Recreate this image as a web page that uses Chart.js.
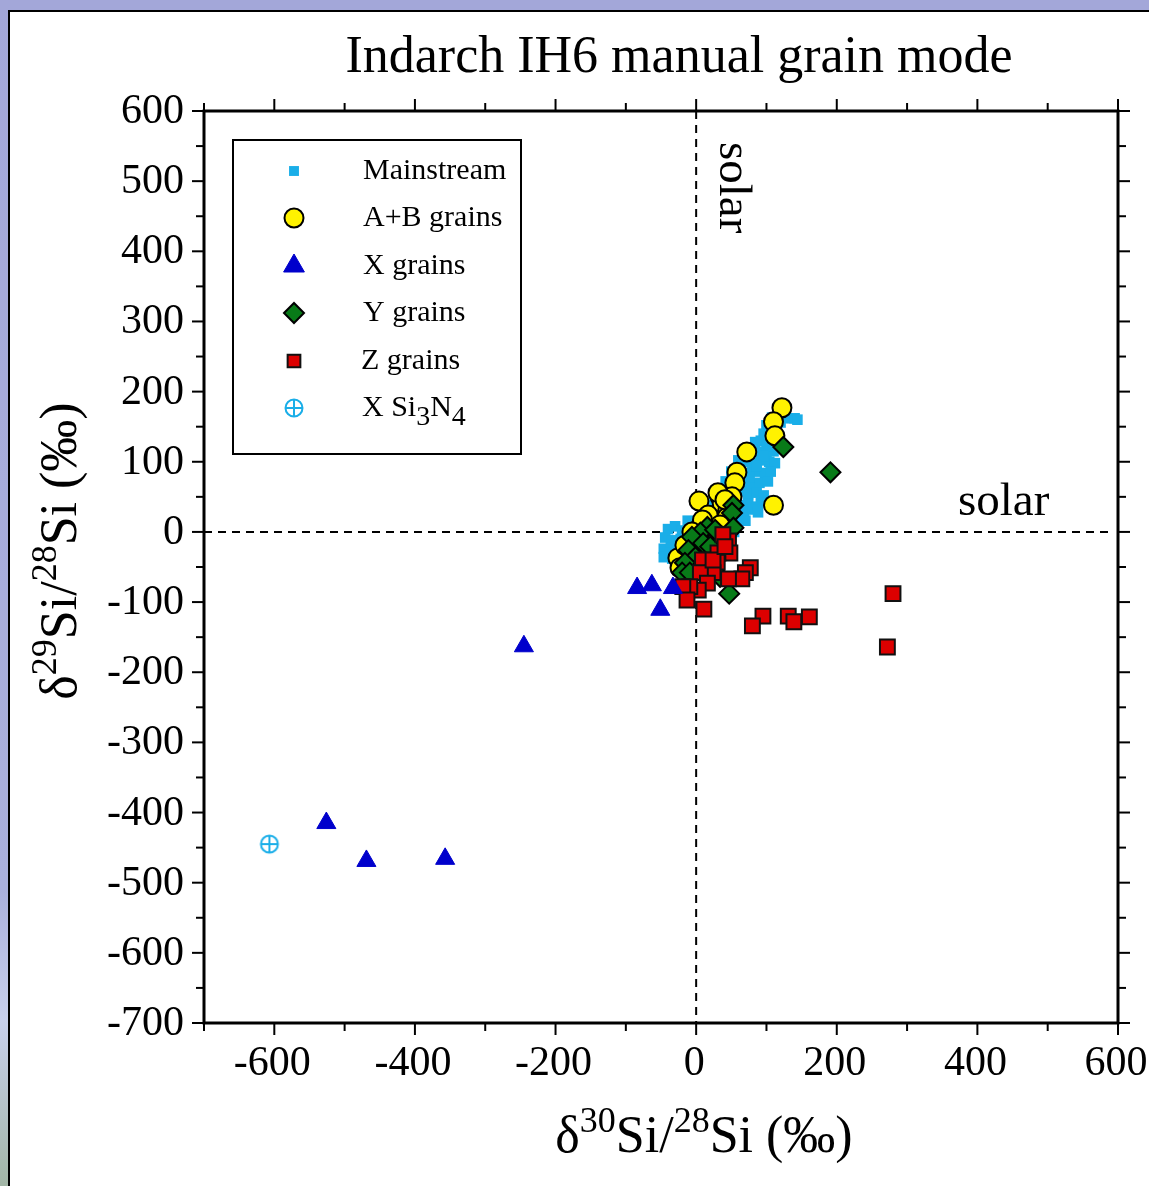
<!DOCTYPE html>
<html>
<head>
<meta charset="utf-8">
<title>Indarch IH6 manual grain mode</title>
<script src="https://cdn.jsdelivr.net/npm/chart.js@4.4.1/dist/chart.umd.min.js"></script>
<style>
  html, body { margin: 0; padding: 0; background: #fff; }
  canvas { display: block; }
</style>
</head>
<body>
<canvas id="grainChart" width="1149" height="1186"></canvas>
<script>
// axis ranges and tick labels
var xRange = [-700, 600];
var yRange = [-700, 600];
var xTickValues = [-600, -400, -200, 0, 200, 400, 600];
var yTickValues = [600, 500, 400, 300, 200, 100, 0, -100, -200, -300, -400, -500, -600, -700];

var legendLabels = ['Mainstream', 'A+B grains', 'X grains', 'Y grains', 'Z grains', 'X Si3N4'];

// delta30Si (x) and delta29Si (y), permil
var mainstreamX = [108, 116, 124, 132, 140, 144, 100, 108, 114, 96, 104, 112, 84, 92, 100, 110,
    72, 80, 90, 100, 110, 60, 70, 80, 92, 104, 112, 50, 62, 74, 86, 98, 106,
    42, 54, 66, 78, 90, 102, 38, 50, 62, 74, 86, 96, 26, 38, 50, 62, 74, 86, 92,
    18, 30, 44, 56, 68, 80, 88, -12, 0, 14, 28, 42, 56, 70,
    -40, -30, -20, -8, 6, 20, 34, 48, 54, -44, -34, -22, -10, 2, 14,
    -46, -36, -24, -12, 0, -46, -34, -20, -8,
    120, 106, 96, 86, 76, 68, 58, 46, 34, 22, 10, -28, -38];
var mainstreamY = [163, 165, 163, 162, 162, 160, 152, 150, 147, 140, 138, 141, 128, 130, 126, 128,
    116, 118, 114, 112, 115, 102, 100, 98, 102, 100, 98, 86, 88, 84, 86, 84, 86,
    72, 70, 72, 68, 70, 72, 56, 54, 58, 54, 56, 52, 42, 40, 42, 38, 40, 36, 42,
    28, 26, 30, 26, 28, 32, 28, 16, 14, 16, 12, 14, 18, 16,
    4, 8, 2, 6, 0, 4, 2, 6, 0, -8, -12, -10, -12, -8, -12,
    -24, -22, -26, -22, -26, -36, -38, -36, -34,
    156, 122, 108, 94, 78, 64, 48, 34, 20, 8, -4, -16, -30];

var abX = [122, 110, 112, 72, 58, 55, 51, 34, 4, 37, 45, 17, 44, 6, 34, 110, -26, -23, 31, 41, 9, -6, -16];
var abY = [177, 157, 137, 114, 85, 70, 50, 50, 44, 41, 31, 24, 21, 7, 10, 38, -37, -51, 56, 46, 17, 0, -19];

var xGrainX = [-84, -63, -33, -51, -245, -526, -469, -357];
var xGrainY = [-80, -76, -80, -111, -163, -415, -469, -466];

var yGrainX = [124, 191, 53, 51, 53, 16, 6, -6, 10, -11, -1, -16, -20, -9, 34, 47, 20, 38, 27];
var yGrainY = [121, 85, 38, 27, 6, 7, -1, -7, -16, -26, -36, -44, -58, -58, -64, -88, -21, -7, 3];

var zGrainX = [46, 48, 38, 31, 30, 9, 24, 6, 16, 3, -9, -19, -13, 11, 77, 70, 65, 46, 95, 80, 131, 139, 161, 280, 272, 24, 41];
var zGrainY = [-13, -30, -4, -30, -43, -40, -58, -58, -73, -83, -78, -78, -97, -110, -51, -58, -67, -67, -120, -134, -120, -128, -121, -88, -164, -40, -21];

var si3n4X = [-607];
var si3n4Y = [-445];

function toPoints(xs, ys) {
    return xs.map(function (x, i) { return { x: x, y: ys[i] }; });
}

var serif = '"Liberation Serif", "Times New Roman", serif';

// circle with cross marker for the Si3N4 grain
var crossCircle = document.createElement('canvas');
crossCircle.width = 22;
crossCircle.height = 22;
(function () {
    var c = crossCircle.getContext('2d');
    c.strokeStyle = '#1aaee8';
    c.lineWidth = 2;
    c.beginPath();
    c.arc(11, 11, 8.5, 0, Math.PI * 2);
    c.moveTo(2.5, 11); c.lineTo(19.5, 11);
    c.moveTo(11, 2.5); c.lineTo(11, 19.5);
    c.stroke();
})();

// draw text pieces with super/subscripts
function drawRich(ctx, parts, x, y, align) {
    var total = 0;
    parts.forEach(function (p) {
        ctx.font = p.size + 'px ' + serif;
        p.w = ctx.measureText(p.t).width;
        total += p.w;
    });
    var cx = align === 'center' ? x - total / 2 : x;
    ctx.textAlign = 'left';
    parts.forEach(function (p) {
        ctx.font = p.size + 'px ' + serif;
        ctx.fillText(p.t, cx, y + (p.dy || 0));
        cx += p.w;
    });
}

function line(ctx, x1, y1, x2, y2) {
    ctx.beginPath();
    ctx.moveTo(x1, y1);
    ctx.lineTo(x2, y2);
    ctx.stroke();
}

var pageFrame = {
    id: 'pageFrame',
    beforeDraw: function (chart) {
        var ctx = chart.ctx, W = chart.width, H = chart.height;
        ctx.save();
        var grad = ctx.createLinearGradient(0, 0, 0, H);
        grad.addColorStop(0, '#a3a7d9');
        grad.addColorStop(0.75, '#aab0dc');
        grad.addColorStop(0.86, '#c8d0ec');
        grad.addColorStop(1, '#a2b6a6');
        ctx.fillStyle = grad;
        ctx.fillRect(0, 0, 9, H);
        ctx.fillStyle = '#a3a7d9';
        ctx.fillRect(0, 0, W, 10);
        ctx.fillStyle = '#fff';
        ctx.fillRect(9, 11, W - 9, H - 11);
        ctx.fillStyle = '#000';
        ctx.fillRect(8, 10, 2, H - 10);
        ctx.fillRect(8, 10, W - 8, 2);
        ctx.restore();
    },
    beforeDatasetsDraw: function (chart) {
        var ctx = chart.ctx, a = chart.chartArea;
        var xs = chart.scales.x, ys = chart.scales.y;
        var x0 = xs.getPixelForValue(0), y0 = ys.getPixelForValue(0);
        ctx.save();
        ctx.strokeStyle = '#000';
        ctx.lineWidth = 2;
        ctx.setLineDash([8, 6]);
        line(ctx, x0, a.top, x0, a.bottom);
        line(ctx, a.left, y0, a.right - 8, y0);
        ctx.setLineDash([]);

        // "solar" labels
        ctx.fillStyle = '#000';
        ctx.font = '47px ' + serif;
        ctx.textAlign = 'left';
        ctx.textBaseline = 'alphabetic';
        ctx.fillText('solar', 958, 515);
        ctx.save();
        ctx.translate(720, 142);
        ctx.rotate(Math.PI / 2);
        ctx.fillText('solar', 0, 0);
        ctx.restore();

        // legend box
        ctx.lineWidth = 2;
        ctx.strokeRect(233, 140, 288, 314);
        var rows = [171, 218, 266, 313, 361, 408];
        var ds = chart.data.datasets;
        var legendRadius = [7, 9.5, 12, 10, 9, 0];
        ds.forEach(function (d, i) {
            var ry = rows[i];
            if (d.pointStyle === crossCircle) {
                ctx.drawImage(crossCircle, 294 - 11, ry - 11);
            } else {
                ctx.fillStyle = d.backgroundColor;
                ctx.strokeStyle = d.borderColor;
                ctx.lineWidth = d.borderWidth;
                Chart.helpers.drawPoint(ctx, {
                    pointStyle: d.pointStyle,
                    radius: legendRadius[i],
                    rotation: 0,
                    borderWidth: d.borderWidth
                }, 294, ry);
            }
            ctx.fillStyle = '#000';
            ctx.textBaseline = 'middle';
            if (i === 5) {
                drawRich(ctx, [
                    { t: 'X Si', size: 30 },
                    { t: '3', size: 28, dy: 10 },
                    { t: 'N', size: 30 },
                    { t: '4', size: 28, dy: 10 }
                ], 362, ry, 'left');
            } else {
                ctx.font = '30px ' + serif;
                ctx.textAlign = 'left';
                ctx.fillText(d.label, i === 4 ? 361 : 363, ry);
            }
        });
        ctx.restore();
    },
    afterDraw: function (chart) {
        var ctx = chart.ctx, a = chart.chartArea;
        var xs = chart.scales.x, ys = chart.scales.y;
        ctx.save();
        ctx.strokeStyle = '#000';
        ctx.lineWidth = 2;
        var v, p, len;
        for (v = xRange[0]; v <= xRange[1]; v += 100) {
            p = xs.getPixelForValue(v);
            len = v % 200 === 0 ? 12 : 8;
            line(ctx, p, a.bottom, p, a.bottom + len);
            line(ctx, p, a.top, p, a.top - len);
        }
        for (v = yRange[0]; v <= yRange[1]; v += 50) {
            p = ys.getPixelForValue(v);
            len = v % 100 === 0 ? 12 : 8;
            line(ctx, a.left, p, a.left - len, p);
            line(ctx, a.right, p, a.right + len, p);
        }
        ctx.lineWidth = 3;
        ctx.strokeRect(a.left, a.top, a.right - a.left, a.bottom - a.top);

        // tick labels
        ctx.fillStyle = '#000';
        ctx.font = '42px ' + serif;
        ctx.textAlign = 'right';
        ctx.textBaseline = 'middle';
        yTickValues.forEach(function (t) {
            ctx.fillText(String(t), a.left - 20, ys.getPixelForValue(t) + 1);
        });
        ctx.textAlign = 'center';
        ctx.textBaseline = 'alphabetic';
        xTickValues.forEach(function (t) {
            ctx.fillText(String(t), xs.getPixelForValue(t) - 2, a.bottom + 52);
        });

        // title
        ctx.font = '52px ' + serif;
        ctx.fillText('Indarch IH6 manual grain mode', 679, 72);

        // axis titles
        drawRich(ctx, [
            { t: '\u03b4', size: 52 },
            { t: '30', size: 36, dy: -20 },
            { t: 'Si/', size: 52 },
            { t: '28', size: 36, dy: -20 },
            { t: 'Si (\u2030)', size: 52 }
        ], 704, 1152, 'center');
        ctx.save();
        ctx.translate(76, 551);
        ctx.rotate(-Math.PI / 2);
        drawRich(ctx, [
            { t: '\u03b4', size: 52 },
            { t: '29', size: 36, dy: -20 },
            { t: 'Si/', size: 52 },
            { t: '28', size: 36, dy: -20 },
            { t: 'Si (\u2030)', size: 52 }
        ], 0, 0, 'center');
        ctx.restore();
        ctx.restore();
    }
};

var ctx = document.getElementById('grainChart').getContext('2d');

var grainChart = new Chart(ctx, {
    type: 'scatter',
    data: {
        datasets: [{
            label: legendLabels[0],
            data: toPoints(mainstreamX, mainstreamY),
            pointStyle: 'rect',
            pointRadius: 7.5,
            backgroundColor: '#1aaee8',
            borderColor: '#1aaee8',
            borderWidth: 0,
            order: 6
        }, {
            label: legendLabels[1],
            data: toPoints(abX, abY),
            pointStyle: 'circle',
            pointRadius: 9.5,
            backgroundColor: '#fff200',
            borderColor: '#000',
            borderWidth: 2,
            order: 5
        }, {
            label: legendLabels[2],
            data: toPoints(xGrainX, xGrainY),
            pointStyle: 'triangle',
            pointRadius: 11,
            backgroundColor: '#0000cc',
            borderColor: '#0000cc',
            borderWidth: 1,
            order: 2
        }, {
            label: legendLabels[3],
            data: toPoints(yGrainX, yGrainY),
            pointStyle: 'rectRot',
            pointRadius: 10,
            backgroundColor: '#087a18',
            borderColor: '#000',
            borderWidth: 2,
            order: 4
        }, {
            label: legendLabels[4],
            data: toPoints(zGrainX, zGrainY),
            pointStyle: 'rect',
            pointRadius: 10.5,
            backgroundColor: '#dd0000',
            borderColor: '#111',
            borderWidth: 2,
            order: 3
        }, {
            label: legendLabels[5],
            data: toPoints(si3n4X, si3n4Y),
            pointStyle: crossCircle,
            pointRadius: 10,
            backgroundColor: '#1aaee8',
            borderColor: '#1aaee8',
            order: 1
        }]
    },
    options: {
        responsive: false,
        animation: false,
        events: [],
        layout: {
            padding: { left: 204, top: 111, right: 31, bottom: 163 }
        },
        scales: {
            x: { type: 'linear', min: xRange[0], max: xRange[1], display: false },
            y: { type: 'linear', min: yRange[0], max: yRange[1], display: false }
        },
        plugins: {
            legend: { display: false },
            title: { display: false },
            tooltip: { enabled: false }
        }
    },
    plugins: [pageFrame]
});
</script>
</body>
</html>
